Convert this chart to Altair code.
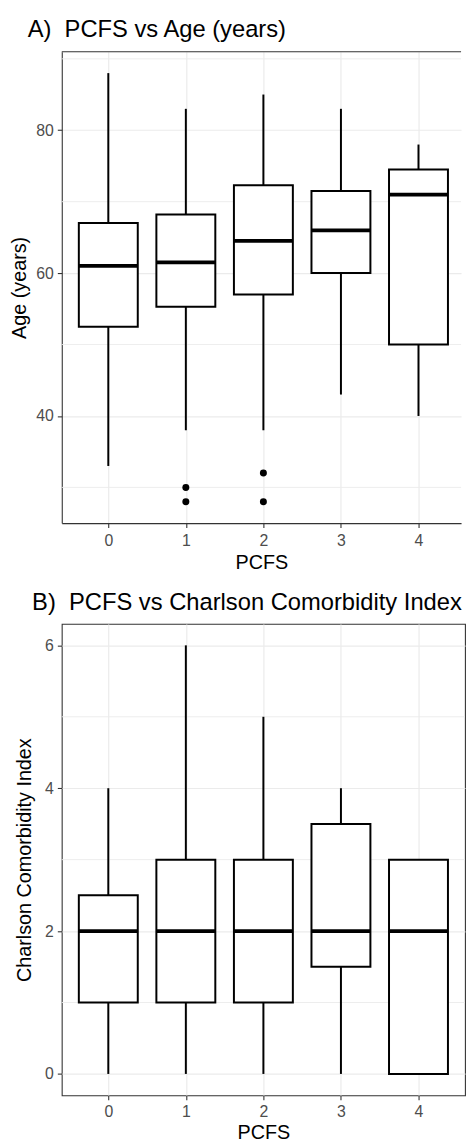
import altair as alt
import pandas as pd

FONT = "Liberation Sans"
GRID = "#EBEBEB"
BORDER = "#333333"

# ---- data ----
pcfs = [0, 1, 2, 3, 4]

age_min = [33, 38, 38, 43, 40]
age_q1 = [52.5, 55.3, 57.0, 60.0, 50.0]
age_med = [61.0, 61.5, 64.5, 66.0, 71.0]
age_q3 = [67.0, 68.2, 72.3, 71.5, 74.5]
age_max = [88, 83, 85, 83, 78]
age_out_pcfs = [1, 1, 2, 2]
age_out_val = [30, 28, 32, 28]

cci_min = [0, 0, 0, 0, 0]
cci_q1 = [1.0, 1.0, 1.0, 1.5, 0.0]
cci_med = [2, 2, 2, 2, 2]
cci_q3 = [2.5, 3.0, 3.0, 3.5, 3.0]
cci_max = [4, 6, 5, 4, 3]

age_major = [40, 60, 80]
age_minor = [30, 50, 70, 90]
cci_major = [0, 2, 4, 6]
cci_minor = [1, 3, 5]

BOX_HALF = 0.38


def stats_df(mn, q1, med, q3, mx):
    return pd.DataFrame({
        "pcfs": pcfs,
        "lo": [p - BOX_HALF for p in pcfs],
        "hi": [p + BOX_HALF for p in pcfs],
        "ymin": mn, "q1": q1, "med": med, "q3": q3, "ymax": mx,
    })


def panel(stats, out, ydomain, major, minor, ytitle, title_text, title_dx,
          width, xdomain, ytitle_pad, x_label_pad, x_title_pad, is_a):
    xs = alt.Scale(domain=xdomain, nice=False, zero=False)
    ys = alt.Scale(domain=ydomain, nice=False, zero=False)
    common = dict(
        grid=True, gridColor=GRID, gridWidth=1.2,
        ticks=True, tickColor=BORDER, tickSize=4.5, tickWidth=1.1,
        labelColor="#4D4D4D", labelFont=FONT, labelFontSize=16,
        titleFont=FONT, titleFontSize=20, titleFontWeight="normal",
        titleColor="black",
        domain=is_a, domainColor=BORDER, domainWidth=1.1,
    )
    xaxis = alt.Axis(values=pcfs, format="d", title="PCFS",
                     labelPadding=x_label_pad, titlePadding=x_title_pad,
                     **common)
    yaxis = alt.Axis(values=major, format="d", title=ytitle, labelPadding=4,
                     titlePadding=ytitle_pad, **common)

    X = lambda f: alt.X(f, scale=xs, axis=xaxis)
    Y = lambda f: alt.Y(f, scale=ys, axis=yaxis)

    base = alt.Chart(stats)
    layers = []
    layers.append(
        alt.Chart(pd.DataFrame({"v": minor}))
        .mark_rule(color=GRID, strokeWidth=0.9)
        .encode(y=Y("v:Q"))
    )
    layers.append(
        base.mark_rule(color="black", strokeWidth=2)
        .encode(x=X("pcfs:Q"), y=Y("ymin:Q"), y2="q1:Q")
    )
    layers.append(
        base.mark_rule(color="black", strokeWidth=2)
        .encode(x=X("pcfs:Q"), y=Y("q3:Q"), y2="ymax:Q")
    )
    layers.append(
        base.mark_rect(fill="white", stroke="black", strokeWidth=2)
        .encode(x=X("lo:Q"), x2="hi:Q", y=Y("q1:Q"), y2="q3:Q")
    )
    layers.append(
        base.mark_rule(color="black", strokeWidth=3.8)
        .encode(x=X("lo:Q"), x2="hi:Q", y=Y("med:Q"))
    )
    if out is not None:
        layers.append(
            alt.Chart(out).mark_circle(color="black", opacity=1, size=50)
            .encode(x=X("pcfs:Q"), y=Y("val:Q"))
        )
    if is_a:
        layers.append(
            alt.Chart(pd.DataFrame({"t": [ydomain[1]]}))
            .mark_rule(color=BORDER, strokeWidth=1.1)
            .encode(y=Y("t:Q"))
        )
    view = (alt.ViewBackground(stroke="transparent") if is_a
            else alt.ViewBackground(stroke=BORDER, strokeWidth=1.1))
    return alt.layer(*layers).properties(
        width=width, height=477,
        view=view,
        title=alt.TitleParams(
            text=title_text, anchor="start", frame="group", dx=title_dx,
            font=FONT, fontSize=24, fontWeight="normal", color="black",
            offset=9.5,
        ),
    )


unit = 408 / 5.2
a_width = 404
a_xdomain = [-0.6, -0.6 + a_width / unit]

age_stats = stats_df(age_min, age_q1, age_med, age_q3, age_max)
age_out = pd.DataFrame({"pcfs": age_out_pcfs, "val": age_out_val})
cci_stats = stats_df(cci_min, cci_q1, cci_med, cci_q3, cci_max)

chart_a = panel(age_stats, age_out, [25, 91], age_major, age_minor,
                "Age (years)", "A)\u00a0\u00a0PCFS vs Age (years)", -34.5,
                a_width, a_xdomain, 6, 5, 4.5, True)
chart_b = panel(cci_stats, None, [-0.3, 6.3], cci_major, cci_minor,
                "Charlson Comorbidity Index",
                "B)\u00a0\u00a0PCFS vs Charlson Comorbidity Index", -30,
                408, [-0.6, 4.6], 10, 4, 3.4, False)

chart = alt.ConcatChart(
    concat=[chart_a, chart_b], columns=1, spacing=16, align="none",
    bounds="full",
).properties(
    padding={"top": 10.5, "left": 9.5, "right": 0, "bottom": 0},
    background="white",
)

chart.save("out.html", embed_options={"renderer": "svg", "actions": False})
